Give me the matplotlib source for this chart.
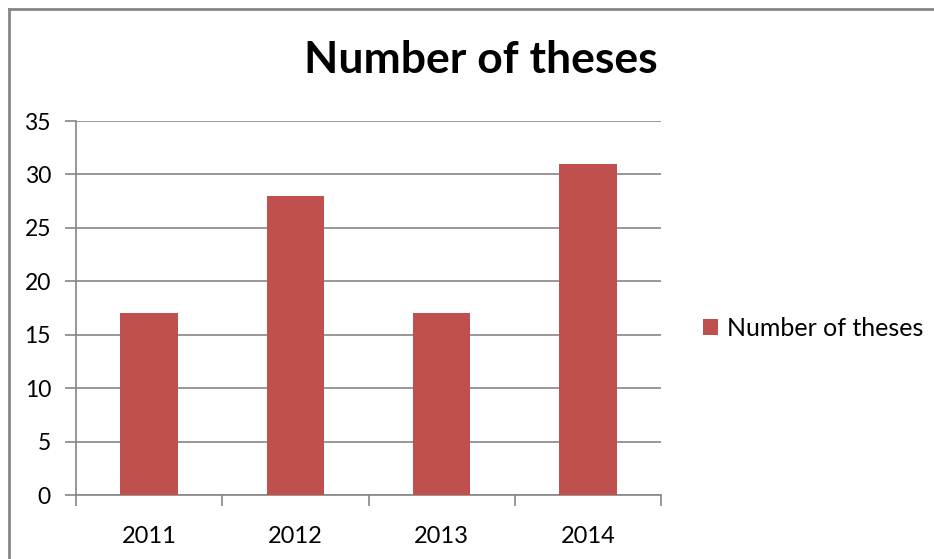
import matplotlib
matplotlib.use("Agg")
import matplotlib.pyplot as plt
from matplotlib.lines import Line2D
from matplotlib.patches import Patch

years = ["2011", "2012", "2013", "2014"]
theses = [17, 28, 17, 31]
series_name = "Number of theses"
title = "Number of theses"

plt.rcParams['font.family'] = ['Lato', 'DejaVu Sans']

W, H = 934, 559
fig = plt.figure(figsize=(W / 100, H / 100), dpi=100)
ax = fig.add_axes([76 / W, (H - 495) / H, (661 - 76) / W, (495 - 121) / H])

grid_c = "#868686"
bar_c = "#C0504D"

x = list(range(len(years)))
ax.bar(x, theses, width=0.394, color=bar_c, zorder=3, label=series_name)
ax.set_xlim(-0.5, 3.5)
ax.set_ylim(0, 35)
ax.set_yticks(range(0, 36, 5))
ax.yaxis.grid(True, color=grid_c, linewidth=1.2, zorder=0)
ax.set_xticks(x)
ax.set_xticklabels(years)
ax.set_xticks([-0.5, 0.5, 1.5, 2.5, 3.5], minor=True)
ax.tick_params(axis='x', which='major', length=0, pad=22, labelsize=17)
ax.tick_params(axis='x', which='minor', length=8, width=1.2, color=grid_c)
ax.tick_params(axis='y', length=8, width=1.2, color=grid_c, pad=10, labelsize=16.5)
for s in ['top', 'right']:
    ax.spines[s].set_visible(False)
for s in ['left', 'bottom']:
    ax.spines[s].set_color(grid_c)
    ax.spines[s].set_linewidth(1.2)

fig.text(481 / W, (H - 60) / H, title, ha='center', va='center',
         fontsize=32, fontweight='bold')

handle = Patch(facecolor=bar_c, edgecolor='none')
fig.legend([handle], [series_name], loc='center left',
           bbox_to_anchor=(703 / W, (H - 328) / H), frameon=False,
           fontsize=18, handlelength=0.6, handleheight=0.6, handletextpad=0.35,
           borderpad=0, borderaxespad=0)

# outer chart border (extends beyond the image on right/bottom)
fig.add_artist(Line2D([8.5 / W, 8.5 / W], [0, (H - 9) / H], color=grid_c, lw=2, transform=fig.transFigure))
fig.add_artist(Line2D([8.5 / W, 1], [(H - 9) / H, (H - 9) / H], color=grid_c, lw=2, transform=fig.transFigure))

fig.savefig("out.png", dpi=100)
